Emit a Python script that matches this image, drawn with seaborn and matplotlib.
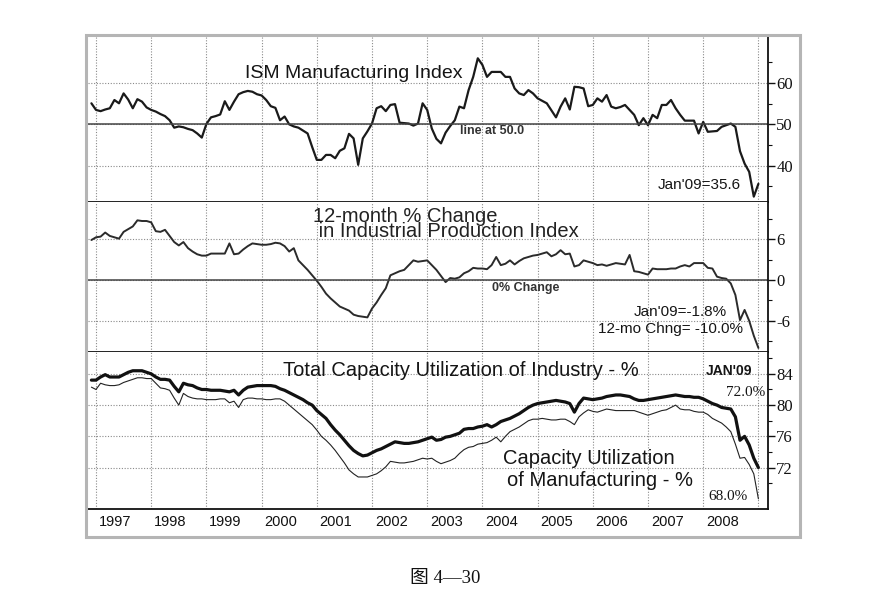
import matplotlib
matplotlib.use("Agg")
import matplotlib.pyplot as plt
import matplotlib.transforms as mtransforms
from matplotlib.patches import Rectangle
import pandas as pd
import seaborn as sns

# monthly readings, Dec 1996 .. Jan 2009
months = pd.date_range("1996-12-01", "2009-01-01", freq="MS")

ism = [55.1,
       53.5, 53.2, 53.6, 53.9, 55.9, 55.1, 57.5, 56.0, 53.9, 56.1, 55.5, 54.1,
       53.5, 53.1, 52.5, 52.0, 51.0, 49.2, 49.5, 49.3, 48.9, 48.6, 47.8, 46.8,
       50.1, 51.7, 52.0, 52.4, 55.6, 53.5, 55.5, 57.3, 57.8, 58.1, 57.9, 57.3,
       57.0, 55.9, 54.4, 54.0, 51.0, 51.9, 50.0, 49.5, 49.2, 48.5, 47.8, 44.5,
       41.4, 41.4, 42.6, 42.6, 41.8, 43.6, 44.2, 47.7, 46.6, 40.2, 46.6, 48.3,
       50.2, 53.9, 54.4, 53.2, 54.7, 54.9, 50.4, 50.3, 50.2, 49.7, 50.2, 55.1,
       53.5, 49.0, 46.5, 45.4, 48.0, 49.6, 51.0, 54.3, 53.9, 58.3, 61.5, 66.0,
       64.4, 61.5, 62.7, 62.7, 62.7, 61.5, 61.5, 58.7, 57.5, 57.1, 58.3, 57.5,
       56.3, 55.7, 55.1, 53.4, 51.7, 54.3, 56.3, 53.6, 59.1, 59.0, 58.7, 54.4,
       54.7, 56.3, 55.5, 57.1, 54.3, 53.9, 54.2, 54.7, 53.5, 52.3, 49.8, 51.5,
       49.8, 52.3, 51.5, 54.7, 54.7, 55.9, 53.9, 52.3, 50.9, 50.9, 50.9, 47.8,
       50.6, 48.2, 48.3, 48.4, 49.4, 49.8, 50.2, 49.4, 43.5, 40.5, 38.5, 32.5,
       35.6]

ip_change = [5.9,
             6.3, 6.4, 7.0, 6.5, 6.3, 6.1, 7.1, 7.5, 7.9, 8.8, 8.7, 8.7,
             8.5, 7.2, 7.1, 7.4, 6.5, 5.6, 5.1, 5.6, 4.7, 4.2, 3.8, 3.6,
             3.6, 3.9, 3.9, 3.9, 3.9, 5.4, 3.8, 3.9, 4.5, 5.0, 5.4, 5.3,
             5.2, 5.2, 5.3, 5.5, 5.4, 5.0, 4.2, 4.7, 2.9, 2.2, 1.5, 0.7,
             -0.1, -1.0, -2.0, -2.7, -3.3, -3.9, -4.2, -4.5, -5.1, -5.3, -5.4, -5.5,
             -4.2, -3.3, -2.2, -1.2, 0.7, 1.0, 1.3, 1.5, 2.2, 2.9, 2.7, 2.8,
             2.9, 2.2, 1.5, 0.6, -0.3, 0.3, 0.2, 0.4, 1.0, 1.3, 1.8, 1.7,
             1.7, 1.6, 2.2, 3.4, 2.2, 2.4, 2.9, 2.3, 2.8, 3.2, 3.4, 3.6,
             3.7, 3.9, 4.1, 3.5, 3.8, 4.4, 3.8, 3.9, 2.0, 2.2, 2.9, 2.7,
             2.5, 2.2, 2.3, 2.1, 2.3, 2.5, 2.4, 2.3, 3.7, 1.3, 1.2, 1.0,
             0.8, 1.7, 1.6, 1.6, 1.6, 1.7, 1.7, 2.0, 2.2, 2.0, 2.5, 2.5,
             2.5, 1.8, 1.7, 0.5, 0.3, 0.2, -0.5, -2.2, -5.9, -4.4, -6.0, -8.2,
             -10.0]

cap_total = [83.2,
             83.2, 83.6, 83.9, 83.6, 83.6, 83.6, 83.9, 84.2, 84.4, 84.4, 84.4, 84.2,
             84.0, 83.6, 83.3, 83.3, 83.2, 82.4, 81.7, 82.8, 82.6, 82.5, 82.2, 82.0,
             82.0, 81.9, 81.9, 81.9, 81.8, 81.7, 81.9, 81.3, 81.9, 82.3, 82.4, 82.5,
             82.5, 82.5, 82.5, 82.4, 82.1, 81.9, 81.6, 81.3, 81.0, 80.7, 80.3, 80.0,
             79.3, 78.8, 78.3, 77.5, 76.8, 76.2, 75.5, 74.8, 74.2, 73.8, 73.5, 73.6,
             73.9, 74.2, 74.4, 74.7, 75.0, 75.3, 75.2, 75.1, 75.1, 75.2, 75.3, 75.5,
             75.7, 75.9, 75.5, 75.6, 75.9, 76.0, 76.2, 76.4, 76.9, 77.0, 77.0, 77.2,
             77.3, 77.5, 77.2, 77.5, 77.9, 78.1, 78.3, 78.6, 78.9, 79.3, 79.7, 80.0,
             80.2, 80.3, 80.4, 80.5, 80.6, 80.5, 80.4, 80.2, 79.1, 80.2, 80.9, 80.8,
             80.7, 80.8, 80.9, 81.1, 81.2, 81.3, 81.3, 81.2, 81.1, 80.8, 80.6, 80.6,
             80.7, 80.8, 80.9, 81.0, 81.1, 81.2, 81.3, 81.2, 81.1, 81.1, 81.0, 81.0,
             80.8, 80.5, 80.2, 80.0, 79.7, 79.6, 79.5, 78.5, 75.5, 76.0, 74.9, 73.2,
             72.0]

cap_mfg = [82.3,
           82.0, 82.8, 82.6, 82.5, 82.5, 82.6, 82.9, 83.1, 83.3, 83.5, 83.5, 83.4,
           83.4, 82.8, 82.2, 82.1, 81.9, 80.9, 80.0, 81.5, 81.1, 80.9, 80.8, 80.8,
           80.7, 80.7, 80.7, 80.8, 80.8, 80.3, 80.5, 79.7, 80.7, 80.9, 80.9, 80.8,
           80.8, 80.7, 80.7, 80.8, 80.8, 80.5, 80.0, 79.5, 79.0, 78.5, 78.0, 77.5,
           76.8, 76.0, 75.5, 74.9, 74.2, 73.4, 72.6, 71.7, 71.2, 70.8, 70.8, 70.8,
           71.0, 71.2, 71.6, 72.1, 72.8, 72.7, 72.6, 72.6, 72.7, 72.8, 73.0, 73.2,
           73.1, 73.2, 72.8, 72.5, 72.7, 72.9, 73.2, 73.8, 74.3, 74.6, 74.7, 75.0,
           75.1, 75.2, 75.5, 75.9, 75.3, 76.0, 76.6, 76.9, 77.2, 77.6, 78.0, 78.2,
           78.2, 78.3, 78.2, 78.1, 78.1, 78.2, 78.2, 77.9, 77.5, 78.5, 79.0, 79.4,
           79.2, 79.1, 79.3, 79.5, 79.4, 79.3, 79.3, 79.3, 79.3, 79.3, 79.1, 78.9,
           78.7, 78.9, 79.1, 79.3, 79.4, 79.7, 80.0, 79.5, 79.4, 79.4, 79.2, 79.1,
           79.1, 78.8, 78.3, 78.0, 77.7, 77.2, 76.6, 75.0, 73.2, 73.3, 72.4, 71.2,
           68.0]

years = list(range(1997, 2010))
year_labels = [str(y) for y in range(1997, 2009)] + [""]

df = pd.DataFrame({"date": months, "ism": ism, "ip": ip_change,
                   "total": cap_total, "mfg": cap_mfg})
df["t"] = df["date"].dt.year + (df["date"].dt.month - 1) / 12

sns.set_style("white")
plt.rcParams["font.family"] = ["Liberation Sans", "DejaVu Sans"]

W, H = 882, 614
fig = plt.figure(figsize=(W / 100, H / 100), dpi=100)


def box(top, bottom, left=88, right=768):
    return [left / W, 1 - bottom / H, (right - left) / W, (bottom - top) / H]


def px(x, y):
    return x / W, 1 - y / H


ax1 = fig.add_axes(box(36, 202))
ax2 = fig.add_axes(box(202, 352))
ax3 = fig.add_axes(box(352, 509))

sns.lineplot(data=df, x="t", y="ism", ax=ax1, color="#1a1a1a", lw=1.6, legend=False)
sns.lineplot(data=df, x="t", y="ip", ax=ax2, color="#2b2b2b", lw=1.4, legend=False)
sns.lineplot(data=df, x="t", y="total", ax=ax3, color="#111111", lw=2.3, legend=False)
sns.lineplot(data=df, x="t", y="mfg", ax=ax3, color="#222222", lw=0.8, legend=False)

settings = [
    (ax1, (31.2, 71.4), [40, 50, 60], [35, 45, 55, 65], 50),
    (ax2, (-10.6, 11.5), [-6, 0, 6], [-9, -3, 3, 9], 0),
    (ax3, (66.7, 86.8), [72, 76, 80, 84], [70, 74, 78, 82, 86], None),
]
for ax, ylim, major, minor, ref in settings:
    ax.set_xlim(1996.855, 2009.174)
    ax.set_ylim(*ylim)
    ax.set_xlabel("")
    ax.set_ylabel("")
    ax.yaxis.tick_right()
    ax.set_yticks(major)
    ax.set_yticklabels([str(v) for v in major])
    ax.set_yticks(minor, minor=True)
    ax.set_xticks(years)
    for side in ["left", "top"]:
        ax.spines[side].set_visible(False)
    for side in ["right", "bottom"]:
        ax.spines[side].set_color("#111111")
        ax.spines[side].set_linewidth(1.3)
    ax.grid(axis="x", color="#8a8a8a", linestyle=(0, (1, 1.5)), linewidth=0.8)
    ax.grid(axis="y", which="major", color="#8a8a8a", linestyle=(0, (1, 1.5)), linewidth=0.8)
    if ref is not None:
        ax.axhline(ref, color="#444444", lw=1.1)
    ax.tick_params(axis="y", which="major", direction="out", length=5, width=1,
                   labelsize=12, pad=1, colors="#111111")
    ax.tick_params(axis="y", which="minor", direction="out", length=3, width=0.8,
                   colors="#111111")
    for lab in ax.get_yticklabels():
        lab.set_family("Liberation Serif")

for ax in (ax1, ax2):
    ax.tick_params(axis="x", length=0, labelbottom=False)

ax3.set_xticklabels(year_labels, ha="left")
ax3.tick_params(axis="x", direction="out", length=9, width=1.1, pad=-4.5,
                labelsize=10.5, colors="#111111")
shift = mtransforms.ScaledTranslation(2 / 72, 0, fig.dpi_scale_trans)
for lab in ax3.get_xticklabels():
    lab.set_transform(lab.get_transform() + shift)

# outer frame
fig.patches.append(Rectangle(px(86, 537), (800 - 86) / W, (537 - 35) / H,
                             transform=fig.transFigure, fill=False,
                             edgecolor="#b5b5b5", lw=2.2))

ink = "#151515"
fig.text(*px(245, 73), "ISM Manufacturing Index", fontsize=14, color=ink, va="center")
fig.text(*px(460, 131), "line at 50.0", fontsize=9, fontweight="bold", color="#333", va="center")
fig.text(*px(658, 185), "Jan'09=35.6", fontsize=11, color=ink, va="center")

fig.text(*px(313, 224), "12-month % Change\n in Industrial Production Index",
         fontsize=14.5, color="#222", va="center", ha="left", multialignment="left",
         linespacing=0.74)
fig.text(*px(492, 288), "0% Change", fontsize=9, fontweight="bold", color="#333", va="center")
fig.text(*px(727, 312), "Jan'09=-1.8%", fontsize=11, color=ink, va="center", ha="right")
fig.text(*px(743, 329), "12-mo Chng= -10.0%", fontsize=11, color=ink, va="center", ha="right")

fig.text(*px(283, 371), "Total Capacity Utilization of Industry - %", fontsize=14.5,
         color=ink, va="center")
fig.text(*px(706, 371), "JAN'09", fontsize=10, fontweight="bold", color=ink, va="center")
fig.text(*px(765, 393), "72.0%", fontsize=11, family="Liberation Serif", color=ink,
         va="center", ha="right")
fig.text(*px(503, 458), "Capacity Utilization", fontsize=14.5, color=ink, va="center")
fig.text(*px(507, 481), "of Manufacturing - %", fontsize=14.5, color=ink, va="center")
fig.text(*px(748, 496), "68.0%", fontsize=11, family="Liberation Serif", color=ink,
         va="center", ha="right")

fig.text(*px(445, 578), "图 4—30", fontsize=13.5, family=["Liberation Serif", "Noto Sans CJK SC"],
         color="#111", va="center", ha="center")

fig.savefig("out.png", dpi=100)
